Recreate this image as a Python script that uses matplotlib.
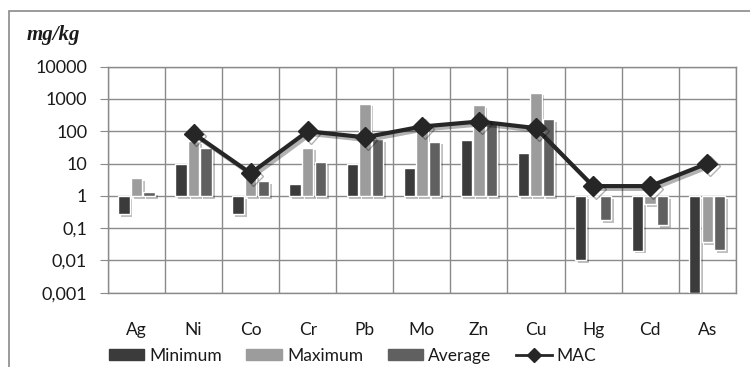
import numpy as np
import matplotlib
matplotlib.use('Agg')
import matplotlib.pyplot as plt
import matplotlib.patheffects as pe
from matplotlib.patches import Rectangle
from matplotlib.lines import Line2D
from matplotlib.ticker import FixedLocator, NullLocator

elements = ['Ag', 'Ni', 'Co', 'Cr', 'Pb', 'Mo', 'Zn', 'Cu', 'Hg', 'Cd', 'As']
minimum = [0.27, 10, 0.27, 2.3, 10, 7.5, 53, 21, 0.01, 0.02, 0.001]
maximum = [3.5, 50, 4.5, 31, 720, 150, 650, 1580, 1.0, 0.55, 0.036]
average = [1.27, 31, 2.9, 10.8, 57, 48, 185, 236, 0.18, 0.127, 0.021]
mac = [np.nan, 85, 5, 100, 65, 140, 200, 125, 2, 2, 10]

ytick_vals = [0.001, 0.01, 0.1, 1, 10, 100, 1000, 10000]
ytick_text = ['0,001', '0,01', '0,1', '1', '10', '100', '1000', '10000']

plt.rcParams['font.family'] = ['Lato', 'DejaVu Sans']

grid_c = '#8a8a8a'
text_c = '#1a1a1a'
fig = plt.figure(figsize=(7.5, 3.67), dpi=100)
ax = fig.add_axes([0.144, 0.2025, 0.837, 0.6158])
ax.set_yscale('log')

x = np.arange(len(elements))
w = 0.2
step = 0.22
shadow = [pe.SimplePatchShadow(offset=(2, -2), shadow_rgbFace='#000000', alpha=0.25), pe.Normal()]
series = [(minimum, '#3b3b3b', 'Minimum'), (maximum, '#9c9c9c', 'Maximum'), (average, '#606060', 'Average')]
for i, (vals, col, lab) in enumerate(series):
    v = np.array(vals, dtype=float)
    ax.bar(x + (i - 1) * step, v - 1, bottom=1, width=w, color=col, edgecolor='white',
           linewidth=1, label=lab, zorder=3, path_effects=shadow)

ax.plot(x, mac, color='#262626', lw=3, marker='D', markersize=10, zorder=5, label='MAC',
        path_effects=[pe.SimpleLineShadow(offset=(2, -2), alpha=0.3), pe.Normal()])

ax.set_xlim(-0.5, len(elements) - 0.5)
ax.set_ylim(0.001, 10000)
ax.yaxis.set_major_locator(FixedLocator(ytick_vals))
ax.yaxis.set_minor_locator(NullLocator())
ax.set_yticks(ytick_vals)
ax.set_yticklabels(ytick_text)
ax.set_xticks(x)
ax.set_xticklabels(elements)
ax.set_xticks(np.arange(len(elements) + 1) - 0.5, minor=True)

ax.grid(True, which='major', axis='y', color=grid_c, lw=1, zorder=0)
ax.grid(True, which='minor', axis='x', color=grid_c, lw=1, zorder=0)
ax.set_axisbelow(True)
for s in ax.spines.values():
    s.set_color(grid_c)
    s.set_linewidth(1)

ax.tick_params(axis='y', which='major', length=6, color=grid_c, pad=9, labelsize=13, labelcolor=text_c)
ax.tick_params(axis='x', which='major', length=0, pad=21, labelsize=12.5, labelcolor=text_c)
ax.tick_params(axis='x', which='minor', length=0)

fig.text(0.036, 0.905, 'mg/kg', family='Liberation Serif', style='italic', weight='bold',
         fontsize=15, va='center', ha='left', color=text_c)

# outer chart frame
fig.patches.append(Rectangle((0.012, -0.1), 1.2, 1.07, transform=fig.transFigure,
                             fill=False, edgecolor=grid_c, lw=1.2))

handles = [Rectangle((0, 0), 1, 1, color=c) for _, c, _ in series]
handles.append(Line2D([], [], color='#262626', lw=2, marker='D', markersize=7))
fig.legend(handles, ['Minimum', 'Maximum', 'Average', 'MAC'], loc='center',
           bbox_to_anchor=(0.47, 0.03), ncol=4, frameon=False, fontsize=12.5,
           handlelength=2.05, handletextpad=0.3, columnspacing=1.4, handleheight=0.6,
           labelcolor=text_c)

fig.savefig('out.png', dpi=100)
